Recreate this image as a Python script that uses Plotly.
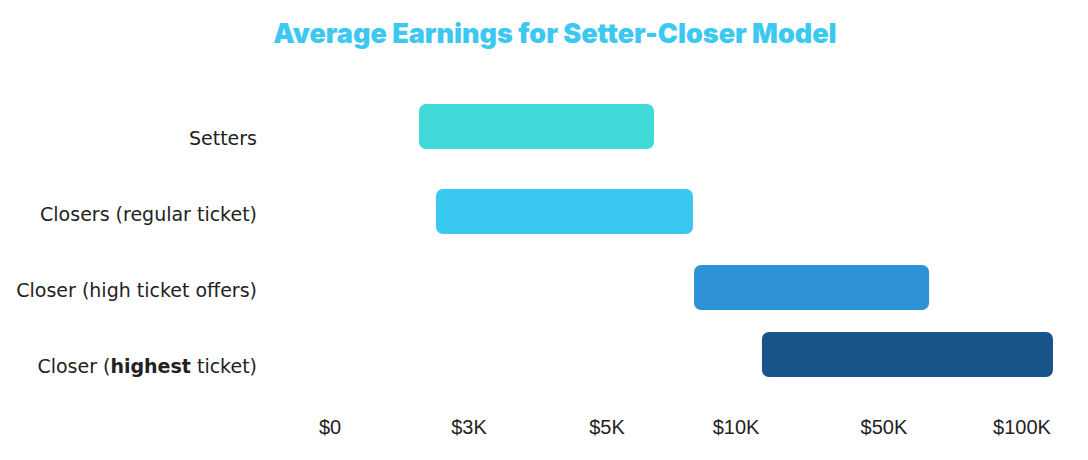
import plotly.graph_objects as go

# ---- data ----
categories = ["Setters", "Closers (regular ticket)", "Closer (high ticket offers)",
              "Closer (<b>highest</b> ticket)"]
# start / end of each bar, expressed on the tick scale (0 = $0, 1 = $3K, 2 = $5K, ...)
range_start = [0.645, 0.768, 2.638, 3.130]
range_end = [2.348, 2.630, 4.341, 5.239]
tick_labels = ["$0", "$3K", "$5K", "$10K", "$50K", "$100K"]
tick_positions = [0.0, 1.007, 2.007, 2.942, 4.014, 5.014]

# ---- styles ----
bar_colors = ["#40DBD8", "#39C8EF", "#2E92D6", "#16548A"]
bar_rows = [-0.151, 0.967, 1.967, 2.849]  # vertical placement of each bar

fig = go.Figure()
fig.add_trace(go.Bar(
    y=bar_rows,
    x=[e - s for s, e in zip(range_start, range_end)],
    base=range_start,
    orientation="h",
    width=0.592,
    marker=dict(color=bar_colors, line=dict(width=0)),
    hoverinfo="skip",
))

fig.update_layout(
    width=1088, height=460,
    paper_bgcolor="white", plot_bgcolor="white",
    margin=dict(l=270, r=8, t=80, b=55),
    barcornerradius=7,
    showlegend=False,
    title=dict(
        text="Average Earnings for Setter-Closer Model",
        x=0.510, xanchor="center",
        y=1 - 34 / 460, yanchor="middle", yref="container",
        font=dict(family="Inter", size=27, color="#3CC8F0", weight=900),
    ),
    xaxis=dict(
        range=[-0.4348, 5.4348],
        tickvals=tick_positions, ticktext=tick_labels,
        showgrid=False, zeroline=False, showline=False, ticks="",
        tickfont=dict(family="Liberation Sans", size=20, color="#222222"),
        ticklabelstandoff=8,
    ),
    yaxis=dict(
        range=[3.513, -0.763],
        tickvals=[0, 1, 2, 3], ticktext=categories,
        showgrid=False, zeroline=False, showline=False, ticks="",
        tickfont=dict(family="DejaVu Sans", size=19, color="#222222"),
        ticklabelstandoff=12,
    ),
)

fig.write_html("out.html")
